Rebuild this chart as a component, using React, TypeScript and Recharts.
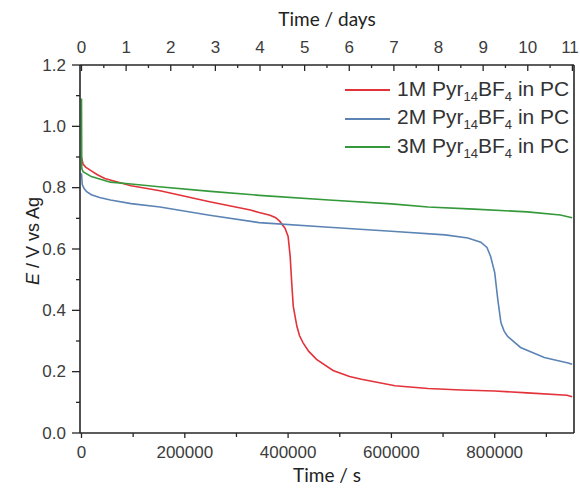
import { LineChart, Line, XAxis, YAxis, Legend, Label, ReferenceLine } from "recharts";

// time in seconds, potential in V vs Ag
const redT = [0, 3000, 8000, 19000, 30000, 45000, 96000, 152000, 248000, 327000, 344000, 365000, 376000, 384000, 394000, 400000, 404000, 407000, 410000, 417000, 422000, 429000, 440000, 455000, 487000, 519000, 542000, 607000, 671000, 735000, 800000, 863000, 940000, 950000];
const redE = [0.899, 0.877, 0.867, 0.855, 0.843, 0.83, 0.806, 0.79, 0.754, 0.727, 0.719, 0.71, 0.702, 0.69, 0.668, 0.641, 0.576, 0.489, 0.413, 0.348, 0.318, 0.294, 0.266, 0.24, 0.204, 0.184, 0.175, 0.154, 0.145, 0.14, 0.137, 0.131, 0.123, 0.118];

const blueT = [0, 1500, 5000, 10000, 19000, 35000, 56000, 96000, 152000, 248000, 344000, 479000, 607000, 704000, 748000, 773000, 785000, 792000, 800000, 806000, 812000, 818000, 825000, 850000, 896000, 942000, 950000];
const blueE = [0.847, 0.81, 0.797, 0.787, 0.777, 0.768, 0.76, 0.748, 0.737, 0.71, 0.686, 0.671, 0.657, 0.646, 0.636, 0.622, 0.605, 0.576, 0.523, 0.435, 0.36, 0.333, 0.315, 0.279, 0.246, 0.228, 0.224];

const greenT = [0, 500, 3000, 19000, 56000, 96000, 150000, 250000, 344000, 479000, 600000, 671000, 760000, 863000, 927000, 950000];
const greenE = [1.091, 0.863, 0.852, 0.836, 0.818, 0.812, 0.803, 0.788, 0.775, 0.76, 0.747, 0.737, 0.73, 0.721, 0.711, 0.702];

const secTicks = [0, 100000, 200000, 300000, 400000, 500000, 600000, 700000, 800000, 900000];
const dayTicks = [0, 0.5, 1, 1.5, 2, 2.5, 3, 3.5, 4, 4.5, 5, 5.5, 6, 6.5, 7, 7.5, 8, 8.5, 9, 9.5, 10, 10.5, 11];
const eTicks = [0, 0.1, 0.2, 0.3, 0.4, 0.5, 0.6, 0.7, 0.8, 0.9, 1, 1.1, 1.2];

const T_MIN = -2900;
const T_MAX = 953500;
const DAY = 86400;

const toRows = (t: number[], e: number[]) => t.map((v, i) => ({ t: v, e: e[i] }));

const series = [
  { name: "1M", color: "#e2323a", data: toRows(redT, redE) },
  { name: "2M", color: "#5b84b5", data: toRows(blueT, blueE) },
  { name: "3M", color: "#34993a", data: toRows(greenT, greenE) },
];

const AXIS = "#262626";
const TXT = "#3c3c3c";
const ARIAL = "'Liberation Sans', Arial, sans-serif";
const TITLE = "Lato, 'Open Sans', sans-serif";

const LeftTick = (p: any) => {
  const v = p.payload.value;
  const major = Math.round(v * 10) % 2 === 0;
  return (
    <g>
      <line x1={p.x - (major ? 8 : 4)} x2={p.x} y1={p.y} y2={p.y} stroke={AXIS} strokeWidth={1.3} />
      {major && (
        <text x={p.x - 14} y={p.y} textAnchor="end" dominantBaseline="central" fill={TXT} fontSize={17} fontFamily={ARIAL}>
          {v.toFixed(1)}
        </text>
      )}
    </g>
  );
};

const BottomTick = (p: any) => {
  const v = p.payload.value;
  const major = v % 200000 === 0;
  return (
    <g>
      <line x1={p.x} x2={p.x} y1={p.y} y2={p.y + (major ? 5 : 4)} stroke={AXIS} strokeWidth={1.3} />
      {major && (
        <text x={p.x} y={p.y + 19} textAnchor="middle" dominantBaseline="central" fill={TXT} fontSize={17} fontFamily={ARIAL}>
          {v}
        </text>
      )}
    </g>
  );
};

const TopTick = (p: any) => {
  const d = Math.round((p.payload.value / DAY) * 2) / 2;
  const major = d % 1 === 0;
  return (
    <g>
      <line x1={p.x} x2={p.x} y1={p.y} y2={p.y + (major ? 6 : 3)} stroke={AXIS} strokeWidth={1.3} />
      {major && (
        <text x={Math.min(p.x, 570)} y={p.y - 18} textAnchor="middle" dominantBaseline="central" fill={TXT} fontSize={17} fontFamily={ARIAL}>
          {d}
        </text>
      )}
    </g>
  );
};

const LegendBox = (props: any) => (
  <div style={{ fontFamily: ARIAL, fontSize: 21, color: "#333" }}>
    {props.payload.map((item: any) => (
      <div key={item.value} style={{ display: "flex", alignItems: "center", height: 28.5, whiteSpace: "nowrap" }}>
        <span style={{ display: "inline-block", width: 45, height: 0, borderTop: `2px solid ${item.color}`, marginRight: 7 }} />
        <span>
          {item.value} Pyr<sub style={{ fontSize: 13 }}>14</sub>BF<sub style={{ fontSize: 13 }}>4</sub> in PC
        </span>
      </div>
    ))}
  </div>
);

export default function App() {
  return (
    <div style={{ position: "absolute", left: 0, top: 0, background: "#fff" }}>
      <LineChart width={580} height={488} margin={{ top: 0, right: 6, bottom: 0, left: 0 }}>
        <XAxis
          dataKey="t"
          type="number"
          domain={[T_MIN, T_MAX]}
          ticks={secTicks}
          interval={0}
          allowDataOverflow
          height={55}
          tickSize={0}
          tickMargin={0}
          tickLine={false}
          tick={<BottomTick />}
          axisLine={{ stroke: AXIS, strokeWidth: 1.6 }}
        >
          <Label value="Time / s" position="insideBottom" offset={6} fill="#222" fontSize={19} fontFamily={TITLE} />
        </XAxis>
        <XAxis
          xAxisId="top"
          orientation="top"
          dataKey="t"
          type="number"
          domain={[T_MIN, T_MAX]}
          ticks={dayTicks.map((d) => d * DAY)}
          interval={0}
          allowDataOverflow
          height={65}
          tickSize={0}
          tickMargin={0}
          tickLine={false}
          tick={<TopTick />}
          axisLine={{ stroke: AXIS, strokeWidth: 1.6 }}
        >
          <Label value="Time / days" position="insideTop" offset={13} fill="#222" fontSize={19} fontFamily={TITLE} />
        </XAxis>
        <YAxis
          type="number"
          domain={[0, 1.2]}
          ticks={eTicks}
          interval={0}
          width={80}
          tickSize={0}
          tickMargin={0}
          tickLine={false}
          tick={<LeftTick />}
          axisLine={{ stroke: AXIS, strokeWidth: 1.6 }}
        >
          <Label
            content={() => (
              <text transform="translate(33,241) rotate(-90)" textAnchor="middle" dominantBaseline="central" fill="#222" fontSize={18} fontFamily={ARIAL}>
                <tspan fontStyle="italic">E</tspan> / V vs Ag
              </text>
            )}
          />
        </YAxis>
        <ReferenceLine x={T_MAX} stroke={AXIS} strokeWidth={1.6} />
        <Legend
          layout="vertical"
          align="center"
          verticalAlign="middle"
          wrapperStyle={{ top: 76, left: 345, width: "auto" }}
          content={<LegendBox />}
        />
        {series.map((s) => (
          <Line
            key={s.name}
            data={s.data}
            dataKey="e"
            name={s.name}
            type="linear"
            stroke={s.color}
            strokeWidth={1.6}
            dot={false}
            isAnimationActive={false}
          />
        ))}
      </LineChart>
    </div>
  );
}
